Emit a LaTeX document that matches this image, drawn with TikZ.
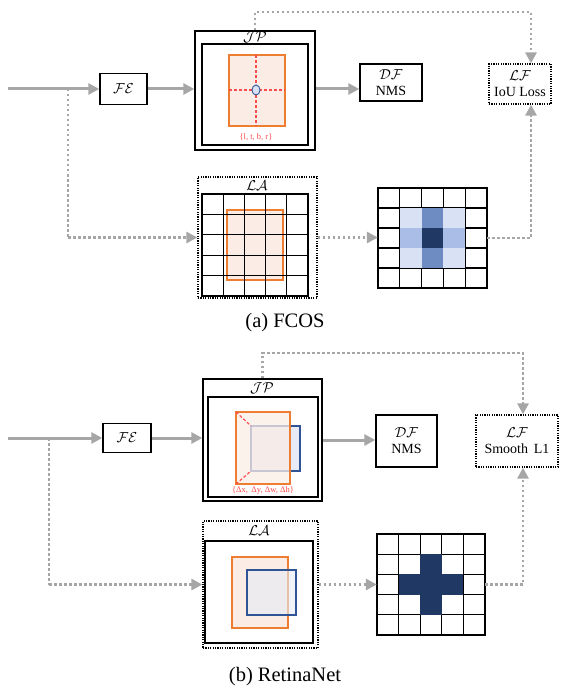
\documentclass[tikz,border=0pt]{standalone}
\usepackage{fontspec}
\setmainfont{Liberation Serif}
\usetikzlibrary{arrows.meta,calc}

\definecolor{arrowgray}{HTML}{A6A6A6}
\definecolor{boxorange}{HTML}{ED7D31}
\definecolor{peach}{HTML}{FBEDE6}
\definecolor{navy}{HTML}{203864}
\definecolor{boxblue}{HTML}{2F5597}
\definecolor{paleblue}{HTML}{E6EBF6}
\definecolor{midblue}{HTML}{6E8CC2}
\definecolor{liteblue}{HTML}{A9BDE6}
\definecolor{faintblue}{HTML}{D9E2F4}
\definecolor{guidered}{HTML}{FF4B4B}

\tikzset{
  flow/.style={draw=arrowgray, line width=3pt, -{Triangle[length=11pt,width=11pt]}},
  dflow/.style={draw=arrowgray, line width=2.8pt, dash pattern=on 2.5pt off 2.5pt,
                -{Triangle[length=11pt,width=11pt]}},
  dline/.style={draw=arrowgray, line width=2.8pt, dash pattern=on 2.5pt off 2.5pt},
  plainbox/.style={draw, line width=1.4pt, inner sep=0pt, align=center,
                   font=\fontsize{14}{16}\selectfont},
  dotbox/.style={draw, line width=1.3pt, dash pattern=on 1.2pt off 1.2pt, inner sep=0pt,
                 align=center, font=\fontsize{14}{16}\selectfont},
  framebox/.style={draw, line width=1.4pt, inner sep=0pt},
  innerframe/.style={draw, line width=2.4pt},
  target/.style={draw=boxorange, line width=1.8pt, fill=peach},
  anchorbox/.style={draw=boxblue, line width=1.8pt},
  guide/.style={draw=guidered, line width=1.1pt, dash pattern=on 3pt off 2pt},
  calname/.style={font=\fontsize{14}{16}\selectfont, inner sep=0pt},
  tiny/.style={text=guidered, font=\fontsize{8.5}{9}\selectfont, inner sep=0pt},
  caption/.style={font=\fontsize{20.5}{22}\selectfont, inner sep=0pt},
}

\begin{document}
\begin{tikzpicture}[x=1pt, y=-1pt]
\useasboundingbox (0,0) rectangle (571,687);

% ===================== (a) FCOS =====================
\coordinate (inA) at (8,89);
\coordinate (brA) at (68,89);
\node[plainbox, minimum width=47pt, minimum height=31pt] (feA) at (123.5,89) {$\mathcal{FE}$};
\node[framebox, minimum width=120pt, minimum height=119pt] (jpA) at (255,90.5) {};
\draw[innerframe] (202,44) rectangle (308,145);
\node[calname] (jpAlabel) at (255,37) {$\mathcal{JP}$};
\draw[target] (229,55) rectangle (285,126);
\draw[guide] (256,55) -- (256,126);
\draw[guide] (229,90) -- (285,90);
\draw[boxblue, fill=faintblue, line width=0.9pt] (256,90) ellipse (4pt and 5pt);
\node[tiny] (ltbr) at (256,137) {\{l, t, b, r\}};

\node[plainbox, minimum width=62pt, minimum height=37pt] (dfA) at (391,82.5) {$\mathcal{DF}$\\NMS};
\node[dotbox, minimum width=62pt, minimum height=40pt] (lfA) at (520,84) {$\mathcal{LF}$\\IoU Loss};

% label assignment: grid with box
\node[dotbox, minimum width=119pt, minimum height=121pt] (laA) at (257.5,237.5) {};
\node[calname] (laAlabel) at (257,186) {$\mathcal{LA}$};
\draw[target] (227,210) rectangle (283,280);
\foreach \i in {1,...,4} {
  \draw[line width=1.1pt] ({202+\i*21.2},194) -- ({202+\i*21.2},296);
  \draw[line width=1.1pt] (202,{194+\i*20.4}) -- (308,{194+\i*20.4});
}
\draw[line width=2.6pt] (202,194) rectangle (308,296);

% centerness heat map
\node[inner sep=0pt, minimum width=109pt, minimum height=100pt] (heatA) at (432.5,238) {};
\foreach \i in {1,...,4} {
  \draw[line width=1.1pt] ({378+\i*21.8},188) -- ({378+\i*21.8},288);
  \draw[line width=1.1pt] (378,{188+\i*20}) -- (487,{188+\i*20});
}
\foreach \c/\r/\col in {1/1/faintblue, 2/1/midblue, 3/1/faintblue,
                        1/2/liteblue, 2/2/navy, 3/2/liteblue,
                        1/3/faintblue, 2/3/midblue, 3/3/faintblue} {
  \fill[\col] ({378+\c*21.8},{188+\r*20}) rectangle ++(21.8,20);
}
\draw[line width=2.2pt] (378,188) rectangle (487,288);

% connectors
\draw[flow] (inA) -- (feA.west);
\draw[flow] (feA.east) -- (feA.east -| jpA.west);
\draw[flow] (jpA.east |- feA) -- (dfA.west |- feA);
\draw[dline] (brA) -- (brA |- laA);
\draw[dflow] (brA |- laA) -- (laA.west);
\draw[dflow] (laA.east) -- (laA.east -| heatA.west);
\draw[dflow] (jpA.north) |- (531,12) -- ($(lfA.north)+(11,0)$);
\draw[dflow] (heatA.east) -| ($(lfA.south)+(11,0)$);

\node[caption] (capA) at (285,323) {(a) FCOS};

% ===================== (b) RetinaNet =====================
\coordinate (inB) at (8,438);
\coordinate (brB) at (49,438);
\node[plainbox, minimum width=48pt, minimum height=29pt] (feB) at (127,438) {$\mathcal{FE}$};
\node[framebox, minimum width=119pt, minimum height=122pt] (jpB) at (262.5,440) {};
\draw[innerframe] (208,397) rectangle (318,497);
\node[calname] (jpBlabel) at (262,388) {$\mathcal{JP}$};
\draw[anchorbox, fill=paleblue] (251,426) rectangle (300,471);
\fill[peach, opacity=0.75] (236,412) rectangle (290,484);
\draw[boxorange, line width=1.8pt] (236,412) rectangle (290,484);
\draw[guide] (236,412) -- (251,426);
\draw[guide] (236,484) -- (251,471);
\node[tiny] (deltas) at (263,490) {\{Δx, \,Δy, Δw, Δh\}};

\node[plainbox, minimum width=61pt, minimum height=52pt] (dfB) at (406.5,441) {$\mathcal{DF}$\\NMS};
\node[dotbox, minimum width=82pt, minimum height=52pt] (lfB) at (517,441) {$\mathcal{LF}$\\Smooth\, L1};

\node[dotbox, minimum width=115pt, minimum height=127pt] (laB) at (260.5,584.5) {};
\node[calname] (laBlabel) at (259,531) {$\mathcal{LA}$};
\draw[target] (232,557) rectangle (288,628);
\fill[paleblue, opacity=0.6] (247,570) rectangle (296,615);
\draw[boxblue, line width=1.8pt] (247,570) rectangle (296,615);
\draw[line width=2.6pt] (205,541) rectangle (313,643);

% positive anchor map
\node[inner sep=0pt, minimum width=108pt, minimum height=101pt] (heatB) at (431,584.5) {};
\foreach \i in {1,...,4} {
  \draw[line width=1.1pt] ({377+\i*21.6},534) -- ({377+\i*21.6},635);
  \draw[line width=1.1pt] (377,{534+\i*20.2}) -- (485,{534+\i*20.2});
}
\foreach \c/\r in {2/1, 1/2, 2/2, 3/2, 2/3} {
  \fill[navy] ({377+\c*21.6},{534+\r*20.2}) rectangle ++(21.6,20.2);
}
\draw[line width=2.2pt] (377,534) rectangle (485,635);

% connectors
\draw[flow] (inB) -- (feB.west);
\draw[flow] (feB.east) -- (feB.east -| jpB.west);
\draw[flow] (jpB.east) -- (jpB.east -| dfB.west);
\draw[dline] (brB) -- (brB |- laB);
\draw[dflow] (brB |- laB) -- (laB.west);
\draw[dflow] (laB.east) -- (laB.east -| heatB.west);
\draw[dflow] (jpB.north) |- (523,353) -- ($(lfB.north)+(6,0)$);
\draw[dflow] (heatB.east) -| ($(lfB.south)+(6,0)$);

\node[caption] (capB) at (285,677) {(b) RetinaNet};
\end{tikzpicture}
\end{document}
